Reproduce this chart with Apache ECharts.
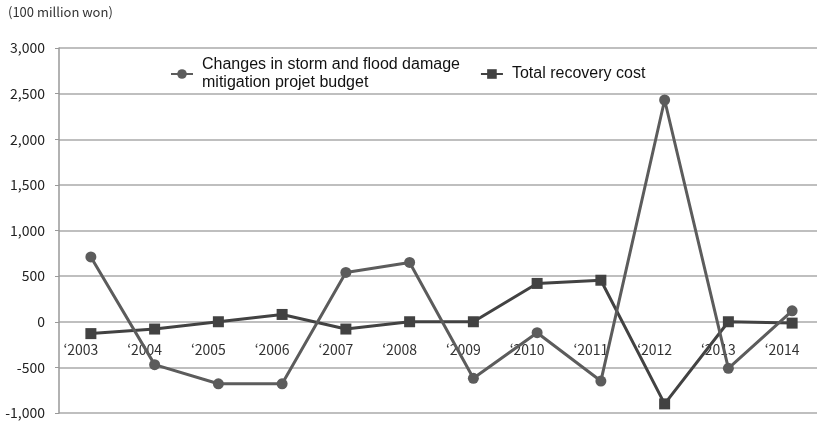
<!DOCTYPE html>
<html>
<head>
<meta charset="utf-8">
<script src="https://cdn.jsdelivr.net/npm/echarts@6/dist/echarts.min.js"></script>
<style>
  html, body { margin: 0; padding: 0; background: #fff; }
  #chart { width: 817px; height: 424px; }
</style>
</head>
<body>
<div id="chart"></div>
<script>
var years = ['\u20182003', '\u20182004', '\u20182005', '\u20182006', '\u20182007', '\u20182008',
             '\u20182009', '\u20182010', '\u20182011', '\u20182012', '\u20182013', '\u20182014'];
var budgetChange = [710, -470, -680, -680, 540, 650, -620, -120, -650, 2430, -510, 120];
var recoveryCost = [-130, -80, 0, 80, -80, 0, 0, 420, 455, -900, 0, -15];
var budgetName = 'Changes in storm and flood damage\nmitigation projet budget';
var recoveryName = 'Total recovery cost';

var myChart = echarts.init(document.getElementById('chart'));
var option = {
  animation: false,
  backgroundColor: '#fff',
  textStyle: { fontFamily: 'Noto Sans CJK KR' },
  graphic: [{
    type: 'text',
    left: 8,
    top: 6,
    style: { text: '(100 million won)', fontSize: 13, fill: '#333', fontFamily: 'Noto Sans CJK KR' }
  }],
  grid: { left: 59, top: 48, right: -7, bottom: 11, outerBoundsMode: 'none', containLabel: false },
  legend: {
    left: 166,
    top: 45,
    itemWidth: 22,
    itemHeight: 12,
    itemGap: 20,
    padding: [2, 6, 2, 4],
    data: [budgetName, recoveryName],
    textStyle: {
      fontFamily: 'Liberation Sans',
      fontSize: 16,
      lineHeight: 18,
      color: '#111',
      padding: [18, 0, 0, 4]
    }
  },
  xAxis: {
    type: 'category',
    data: years,
    boundaryGap: true,
    offset: -90,
    axisLine: { show: false, onZero: false },
    axisTick: { show: false },
    axisLabel: { fontSize: 14, color: '#333', margin: 20, padding: [0, 20, 0, 0] }
  },
  yAxis: {
    type: 'value',
    min: -1000,
    max: 3000,
    interval: 500,
    axisLine: { show: true, lineStyle: { color: '#999', width: 1.5 } },
    axisTick: { show: true, length: 4, lineStyle: { color: '#999' } },
    splitLine: { lineStyle: { color: '#aaa', width: 1.5 } },
    axisLabel: {
      fontSize: 14,
      color: '#222',
      margin: 14,
      formatter: function (v) { return v.toLocaleString('en-US'); }
    }
  },
  series: [{
    name: budgetName,
    type: 'line',
    data: budgetChange,
    symbol: 'circle',
    symbolSize: 11,
    color: '#5c5c5c',
    lineStyle: { width: 3, color: '#5c5c5c' },
    itemStyle: { color: '#5c5c5c' },
    z: 3
  }, {
    name: recoveryName,
    type: 'line',
    data: recoveryCost,
    symbol: 'rect',
    symbolSize: 11,
    color: '#424242',
    lineStyle: { width: 3, color: '#424242' },
    itemStyle: { color: '#424242' },
    z: 2
  }]
};
myChart.setOption(option);
</script>
</body>
</html>
